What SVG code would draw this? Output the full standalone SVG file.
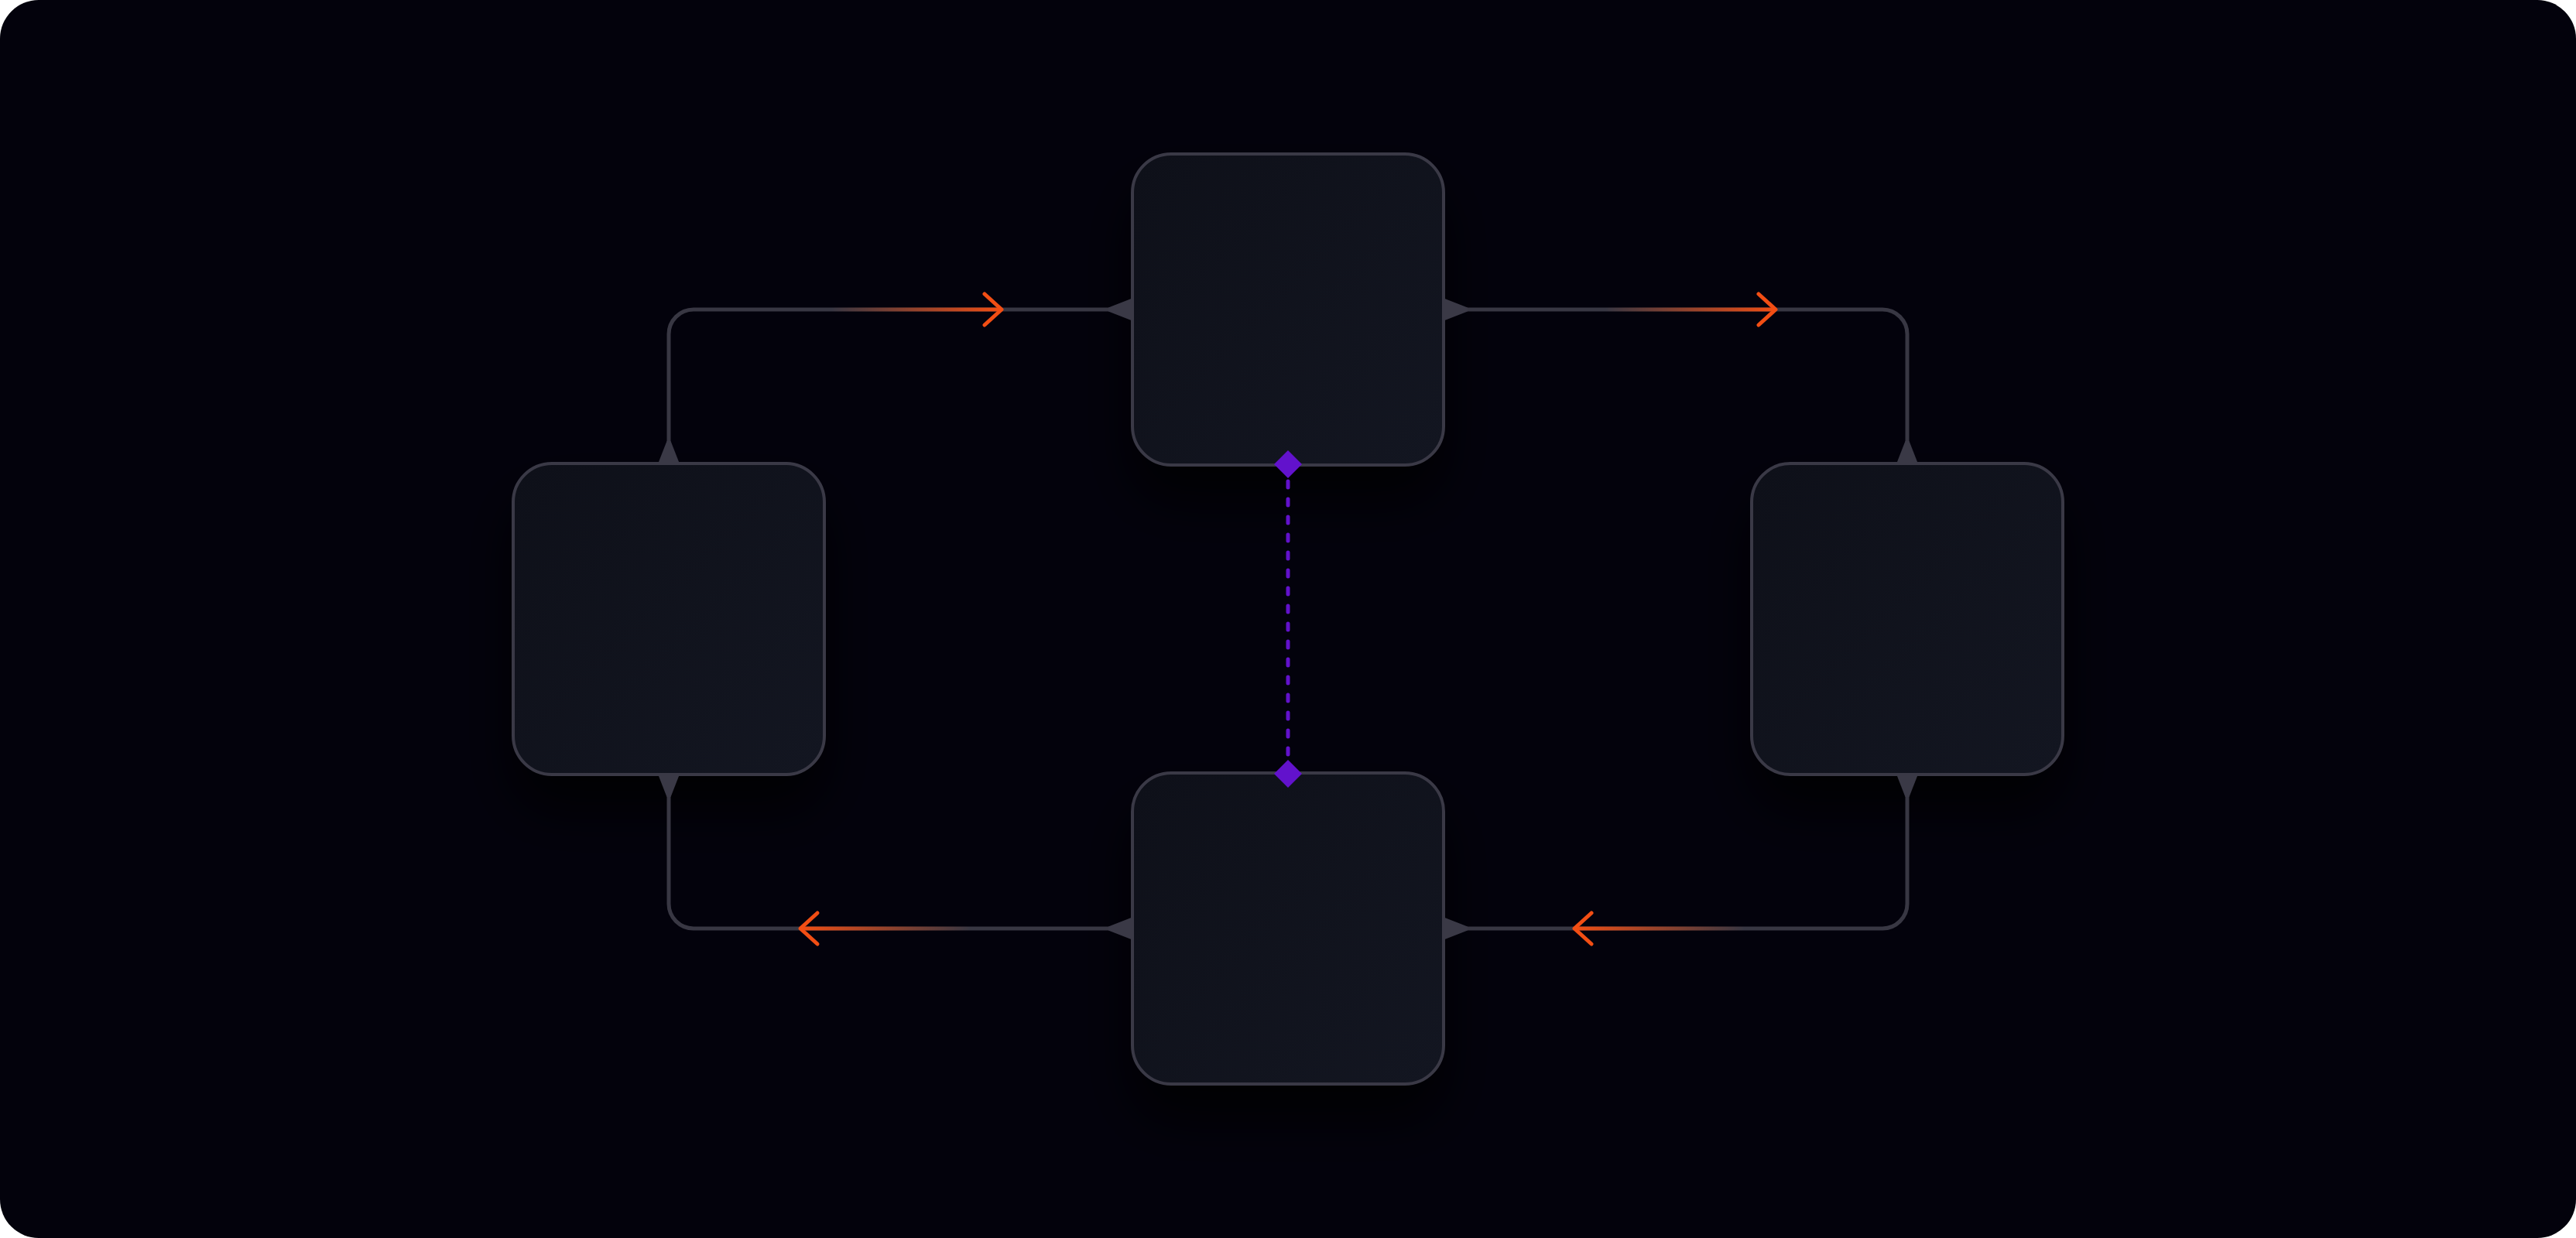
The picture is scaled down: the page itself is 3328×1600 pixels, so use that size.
<svg xmlns="http://www.w3.org/2000/svg" width="3328" height="1600" viewBox="0 0 3328 1600">
  <style>
    .node { fill: url(#nodeFill); stroke: #3a3946; stroke-width: 4; }
    .shadow { fill: #000000; filter: url(#shadow); }
    .wire { fill: none; stroke: #383743; stroke-width: 5; }
    .flare { fill: #3a3946; }
    .chev { fill: none; stroke: #f24e14; stroke-width: 5; stroke-linecap: round; stroke-linejoin: round; }
    .dash { fill: none; stroke: #6212cc; stroke-width: 5; stroke-linecap: round; stroke-dasharray: 8 15; }
    .dia { fill: #6212cc; }
  </style>
  <defs>
    <linearGradient id="nodeFill" x1="0" y1="0" x2="1" y2="1">
      <stop offset="0" stop-color="#0e1019"/>
      <stop offset="1" stop-color="#131621"/>
    </linearGradient>
    <linearGradient id="glowR" x1="0" y1="0" x2="1" y2="0">
      <stop offset="0" stop-color="#f24e14" stop-opacity="0"/>
      <stop offset="1" stop-color="#f24e14" stop-opacity="1"/>
    </linearGradient>
    <linearGradient id="glowL" x1="1" y1="0" x2="0" y2="0">
      <stop offset="0" stop-color="#f24e14" stop-opacity="0"/>
      <stop offset="1" stop-color="#f24e14" stop-opacity="1"/>
    </linearGradient>
    <filter id="shadow" x="-30%" y="-30%" width="160%" height="180%">
      <feOffset dx="0" dy="44"/>
      <feGaussianBlur stdDeviation="36"/>
      <feComponentTransfer><feFuncA type="linear" slope="0.85"/></feComponentTransfer>
    </filter>
  </defs>

  <rect x="0" y="0" width="3328" height="1600" fill="#ffffff"/>
  <rect x="0" y="0" width="3328" height="1600" rx="50" ry="50" fill="#03020c"/>

  <g id="shadows">
    <rect class="shadow" x="1463" y="199" width="402" height="402" rx="50" ry="50"/>
    <rect class="shadow" x="1463" y="999" width="402" height="402" rx="50" ry="50"/>
    <rect class="shadow" x="663" y="599" width="402" height="402" rx="50" ry="50"/>
    <rect class="shadow" x="2263" y="599" width="402" height="402" rx="50" ry="50"/>
  </g>

  <g id="connectors">
    <path class="wire" d="M864 600 V432 A32 32 0 0 1 896 400 H1464"/>
    <path class="wire" d="M1864 400 H2432 A32 32 0 0 1 2464 432 V600"/>
    <path class="wire" d="M2464 1000 V1168 A32 32 0 0 1 2432 1200 H1864"/>
    <path class="wire" d="M1464 1200 H896 A32 32 0 0 1 864 1168 V1000"/>

    <rect x="1074" y="397.5" width="220" height="5" fill="url(#glowR)"/>
    <rect x="2074" y="397.5" width="220" height="5" fill="url(#glowR)"/>
    <rect x="2034" y="1197.5" width="220" height="5" fill="url(#glowL)"/>
    <rect x="1034" y="1197.5" width="220" height="5" fill="url(#glowL)"/>

    <path class="chev" d="M1272 380 L1294 400 L1272 420"/>
    <path class="chev" d="M2272 380 L2294 400 L2272 420"/>
    <path class="chev" d="M2056 1180 L2034 1200 L2056 1220"/>
    <path class="chev" d="M1056 1180 L1034 1200 L1056 1220"/>

    <path class="flare" d="M849 602 L861.5 570 L866.5 570 L879 602 Z"/>
    <path class="flare" d="M1464 385 L1432 397.5 L1432 402.5 L1464 415 Z"/>
    <path class="flare" d="M1864 385 L1896 397.5 L1896 402.5 L1864 415 Z"/>
    <path class="flare" d="M2449 602 L2461.5 570 L2466.5 570 L2479 602 Z"/>
    <path class="flare" d="M2449 998 L2461.5 1030 L2466.5 1030 L2479 998 Z"/>
    <path class="flare" d="M1864 1185 L1896 1197.5 L1896 1202.5 L1864 1215 Z"/>
    <path class="flare" d="M1464 1185 L1432 1197.5 L1432 1202.5 L1464 1215 Z"/>
    <path class="flare" d="M849 998 L861.5 1030 L866.5 1030 L879 998 Z"/>
  </g>

  <g id="node-top"><rect class="node" x="1463" y="199" width="402" height="402" rx="50" ry="50"/></g>
  <g id="node-bottom"><rect class="node" x="1463" y="999" width="402" height="402" rx="50" ry="50"/></g>
  <g id="node-left"><rect class="node" x="663" y="599" width="402" height="402" rx="50" ry="50"/></g>
  <g id="node-right"><rect class="node" x="2263" y="599" width="402" height="402" rx="50" ry="50"/></g>

  <g id="link">
    <path class="dash" d="M1664 622 V980"/>
    <path class="dia" d="M1664 582 L1682 600 L1664 618 L1646 600 Z"/>
    <path class="dia" d="M1664 982 L1682 1000 L1664 1018 L1646 1000 Z"/>
  </g>
</svg>
